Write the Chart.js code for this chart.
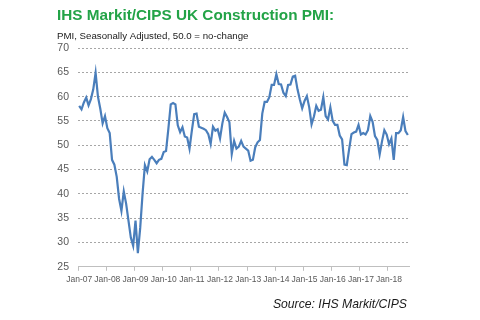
<!DOCTYPE html>
<html lang="en">
<head>
  <meta charset="UTF-8">
  <title>IHS Markit/CIPS UK Construction PMI</title>
  <script src="https://cdn.jsdelivr.net/npm/chart.js"></script>
  <style>
    html, body { margin: 0; padding: 0; background: #fff; }
    #wrap { position: relative; width: 480px; height: 320px; }
    #source {
      position: absolute; right: 73px; top: 297px;
      font: italic 12.2px "Liberation Sans", Arial, sans-serif; color: #1a1a1a;
    }
  </style>
</head>
<body>
  <div id="wrap">
    <canvas id="pmiChart" width="480" height="320"></canvas>
    <div id="source">Source: IHS Markit/CIPS</div>
  </div>

  <script>
    const years = ['07', '08', '09', '10', '11', '12', '13', '14', '15', '16', '17', '18'];
    const monthNames = ['Jan', 'Feb', 'Mar', 'Apr', 'May', 'Jun', 'Jul', 'Aug', 'Sep', 'Oct', 'Nov', 'Dec'];

    // monthly PMI, Jan-07 .. Sep-18
    const pmi = [
      58.1, 57.4, 58.8, 59.8, 58.2, 59.5, 61.5, 64.9, 60.0, 57.5, 54.5, 56.0,
      53.5, 52.5, 47.0, 46.0, 43.5, 39.0, 36.5, 40.5, 38.0, 34.5, 31.0, 29.3,
      34.5, 27.8, 33.0, 40.0, 45.9, 44.6, 47.1, 47.6, 47.0, 46.3, 47.0, 47.2,
      48.6, 48.8, 53.4, 58.4, 58.7, 58.4, 54.1, 52.7, 53.7, 51.8, 51.6, 49.3,
      53.0, 56.4, 56.5, 53.8, 53.6, 53.4, 53.1, 52.3, 50.3, 53.8, 53.0, 53.3,
      51.4, 54.5, 56.7, 55.8, 54.7, 48.2, 50.9, 49.3, 49.7, 50.9, 49.7, 49.3,
      48.9, 46.8, 47.0, 49.6, 50.6, 51.1, 56.5, 58.9, 58.9, 59.9, 62.4, 62.4,
      64.6, 62.6, 62.5, 60.8, 60.1, 62.4, 62.5, 64.1, 64.3, 61.5, 59.4, 57.6,
      59.1, 60.1, 57.8, 54.3, 55.9, 58.1, 57.1, 57.3, 59.9, 56.0, 55.3, 57.8,
      55.0, 54.2, 54.2, 52.0, 51.2, 46.0, 45.9, 49.2, 52.3, 52.6, 52.8, 54.2,
      52.2, 52.5, 52.2, 53.1, 56.0, 54.8, 51.9, 51.1, 48.1, 50.8, 53.1, 52.2,
      50.2, 51.4, 47.0, 52.5, 52.5, 53.1, 55.8, 52.9, 52.1
    ];

    const yMin = 25, yMax = 70, yStep = 5;

    const labels = [];
    years.forEach(y => monthNames.forEach(m => labels.push(m + '-' + y)));
    labels.length = pmi.length;

    const font = 'Liberation Sans';

    new Chart(document.getElementById('pmiChart'), {
      type: 'line',
      data: {
        labels: labels,
        datasets: [{
          data: pmi,
          borderColor: '#4a7ebb',
          borderWidth: 2.2,
          pointRadius: 0,
          tension: 0,
          fill: false
        }]
      },
      options: {
        responsive: false,
        animation: false,
        devicePixelRatio: 1,
        layout: { padding: { left: 57, right: 71, top: 0, bottom: 31 } },
        scales: {
          x: {
            type: 'category',
            offset: true,
            grid: {
              offset: true,
              drawOnChartArea: false,
              drawTicks: true,
              tickLength: 4,
              color: ctx => (ctx.index % 12 === 0 ? '#bfbfbf' : 'rgba(0,0,0,0)')
            },
            border: { color: '#bfbfbf' },
            ticks: {
              autoSkip: false,
              maxRotation: 0,
              minRotation: 0,
              padding: 4,
              color: '#595959',
              font: { family: font, size: 8.5 },
              callback: (v, i) => (i % 12 === 0 ? labels[i] : '')
            }
          },
          y: {
            min: yMin,
            max: yMax,
            afterFit: s => { s.width = 21; },
            ticks: {
              stepSize: yStep,
              padding: 9,
              color: '#595959',
              font: { family: font, size: 10.5 }
            },
            grid: {
              drawTicks: false,
              lineWidth: 1,
              color: ctx => (ctx.tick.value === yMin ? 'rgba(0,0,0,0)' : '#a6a6a6')
            },
            border: { display: false, dash: [2, 2] }
          }
        },
        plugins: {
          legend: { display: false },
          tooltip: { enabled: false },
          title: {
            display: true,
            text: 'IHS Markit/CIPS UK Construction PMI:',
            align: 'start',
            color: '#23a347',
            font: { family: font, size: 15.3, weight: 'bold' },
            padding: { top: 7, bottom: 3 }
          },
          subtitle: {
            display: true,
            text: 'PMI, Seasonally Adjusted, 50.0 = no-change',
            align: 'start',
            color: '#1a1a1a',
            font: { family: font, size: 9.7 },
            padding: { top: 2, bottom: 6 }
          }
        }
      }
    });
  </script>
</body>
</html>
